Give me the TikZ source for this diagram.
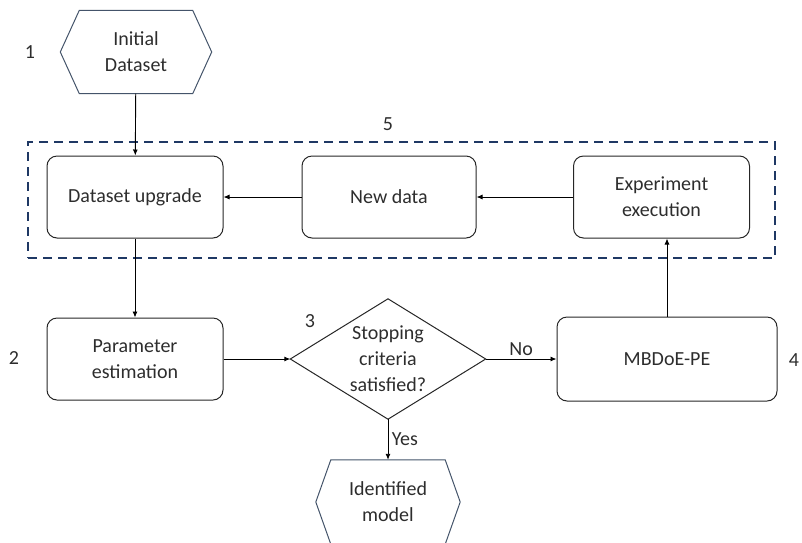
\documentclass[tikz,border=0pt]{standalone}
\usepackage{fontspec}
\setmainfont{Carlito}
\usetikzlibrary{arrows.meta}
\definecolor{hexblue}{RGB}{68,84,106}
\definecolor{navy}{RGB}{31,56,100}
\definecolor{txt}{RGB}{45,45,45}

\begin{document}
\begin{tikzpicture}[x=1pt, y=-1pt, font=\fontsize{20}{26}\selectfont, text=txt, line/.style={-{Latex[length=6pt,width=5pt]},line width=0.9pt}, box/.style={rectangle,draw=black!85,rounded corners=10pt,line width=1pt,align=center,minimum width=176pt,minimum height=82pt,inner sep=2pt}, hexbox/.style={align=center,inner sep=0pt}, hexline/.style={draw=hexblue,line width=1pt}, group/.style={draw=navy,line width=2.4pt,dash pattern=on 9pt off 6pt}, num/.style={inner sep=0pt}]
\useasboundingbox (0,0) rectangle (802,542);
\clip (0,0) rectangle (802,542);
\node[hexbox,minimum width=151pt,minimum height=83pt] (init) at (136,52) {Initial\\Dataset};
\draw[hexline] (init.west) -- ([xshift=19pt]init.north west) -- ([xshift=-19pt]init.north east) -- (init.east) -- ([xshift=-19pt]init.south east) -- ([xshift=19pt]init.south west) -- cycle;
\node[group,minimum width=747pt,minimum height=116pt] (grp) at (401.5,200) {};
\node[box] (upg) at (135,197) {Dataset upgrade};
\node[box,minimum width=174pt] (newd) at (389,197) {New data};
\node[box] (exp) at (661.5,197) {Experiment\\execution};
\node[box] (par) at (135,359) {Parameter\\estimation};
\node[hexbox,minimum width=195pt,minimum height=120pt] (crit) at (388,359) {Stopping\\criteria\\satisfied?};
\draw[line width=1pt,draw=black!85] (crit.west) -- (crit.north) -- (crit.east) -- (crit.south) -- cycle;
\node[box,minimum width=220pt,minimum height=84pt] (mbd) at (667,359) {MBDoE-PE};
\node[hexbox,minimum width=144pt,minimum height=84pt] (ident) at (388,502) {Identified\\model};
\draw[hexline] (ident.west) -- ([xshift=15pt]ident.north west) -- ([xshift=-15pt]ident.north east) -- (ident.east) -- ([xshift=-15pt]ident.south east) -- ([xshift=15pt]ident.south west) -- cycle;
\node[num] (n1) at (30,52) {1};
\node[num] (n2) at (14,358) {2};
\node[num] (n3) at (310,321) {3};
\node[num] (n4) at (794,360) {4};
\node[num] (n5) at (388,124) {5};
\draw[line] (init) -- (upg);
\draw[line] (upg) -- (par);
\draw[line] (par) -- (crit.west);
\draw[line] (crit.east) -- node[above] {No} (mbd);
\draw[line] (crit.south) -- node[right] {Yes} (ident.north);
\draw[line] (mbd.north) -- (mbd.north |- exp.south);
\draw[line] (exp) -- (newd);
\draw[line] (newd) -- (upg);
\end{tikzpicture}
\end{document}
